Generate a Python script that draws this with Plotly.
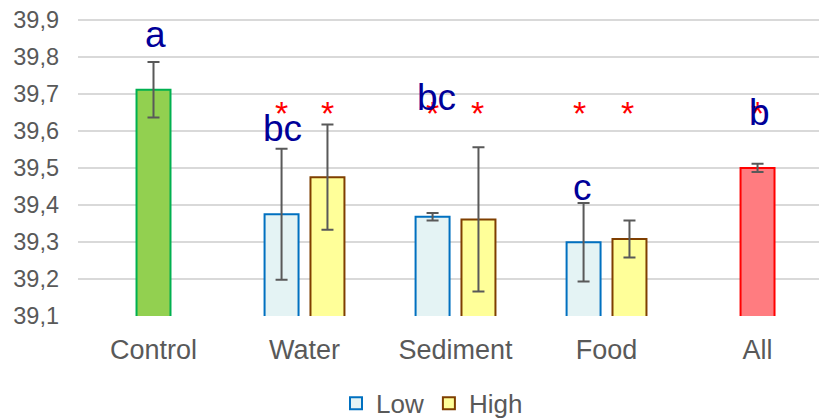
import plotly.graph_objects as go

categories = ["Control", "Water", "Sediment", "Food", "All"]
groups = ["Water", "Sediment", "Food"]
control_val = [39.711]
control_err = [0.075]
low_vals = [39.375, 39.368, 39.299]
low_err = [0.177, 0.010, 0.106]
high_vals = [39.475, 39.361, 39.308]
high_err = [0.142, 0.195, 0.050]
all_val = [39.500]
all_err = [0.011]
y_ticks = [39.1, 39.2, 39.3, 39.4, 39.5, 39.6, 39.7, 39.8, 39.9]

# letter annotations: (category, text, y, xshift px)
letters = [("Control", "a", 39.86, 2), ("Water", "bc", 39.607, -22),
           ("Sediment", "bc", 39.69, -19), ("Food", "c", 39.447, -24),
           ("All", "b", 39.65, 2)]
# asterisks: (category, xshift px)
stars = [("Water", -23), ("Water", 23), ("Sediment", -23), ("Sediment", 22),
         ("Food", -27), ("Food", 21), ("All", 0)]

W = 0.225
OFF = 0.152
err_style = dict(type="data", color="#595959", thickness=2, width=6)

fig = go.Figure()
fig.add_trace(go.Bar(x=["Control"], y=control_val, width=W, offset=-W/2,
                     error_y=dict(array=control_err, **err_style),
                     marker=dict(color="#92D050", line=dict(color="#00B050", width=2)),
                     showlegend=False))
fig.add_trace(go.Bar(x=groups, y=low_vals, width=W, offset=-OFF - W/2, name="Low",
                     error_y=dict(array=low_err, **err_style),
                     marker=dict(color="#E4F3F4", line=dict(color="#0070C0", width=2))))
fig.add_trace(go.Bar(x=groups, y=high_vals, width=W, offset=OFF - W/2, name="High",
                     error_y=dict(array=high_err, **err_style),
                     marker=dict(color="#FFFF99", line=dict(color="#7F3F00", width=2))))
fig.add_trace(go.Bar(x=["All"], y=all_val, width=W, offset=-W/2,
                     error_y=dict(array=all_err, **err_style),
                     marker=dict(color="#FF7C80", line=dict(color="#FF0000", width=2)),
                     showlegend=False))

for cat, sh in stars:
    fig.add_annotation(x=cat, y=39.649, text="*", showarrow=False, xshift=sh,
                       font=dict(size=34, color="#FF0000"), yanchor="middle")
for cat, txt, yy, sh in letters:
    fig.add_annotation(x=cat, y=yy, text=txt, showarrow=False, xshift=sh,
                       font=dict(size=37, color="#000099"), yanchor="middle")

fig.update_layout(
    width=819, height=411,
    margin=dict(l=70, r=0, t=10, b=103, autoexpand=False),
    barmode="overlay",
    separators=",.",
    plot_bgcolor="white", paper_bgcolor="white",
    font=dict(family="Liberation Sans, Arial, sans-serif", size=24, color="#595959"),
    xaxis=dict(categoryorder="array", categoryarray=categories, range=[-0.5, 4.46],
               showgrid=False, showline=False, ticks="", tickfont=dict(size=27),
               ticklabelstandoff=15),
    yaxis=dict(range=[39.1, 39.905], tickvals=y_ticks, tickformat=".1f",
               showgrid=True, gridcolor="#D9D9D9", gridwidth=2, zeroline=False,
               showline=False, ticks="", tickfont=dict(size=23.5), ticklabelstandoff=18,
               ticklabeloverflow="allow"),
    legend=dict(orientation="h", x=0.4726, xanchor="center", y=-0.293, yanchor="middle",
                font=dict(size=26), itemwidth=30, tracegroupgap=0),
)

fig.write_html("out.html")
